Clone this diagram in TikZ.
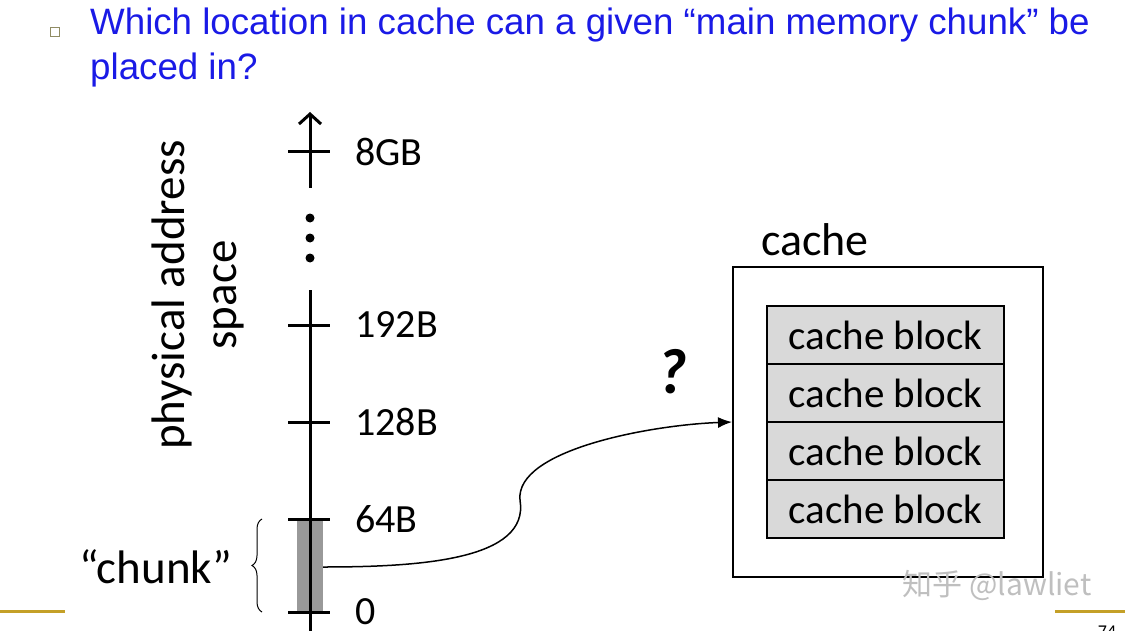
\documentclass[tikz,border=0pt]{standalone}
\usepackage{fontspec}
\setmainfont{Carlito}
\newfontfamily\titlefont{Liberation Sans}
\newfontfamily\cjkfont{Noto Sans CJK SC}
\usetikzlibrary{decorations.pathreplacing,arrows.meta}
\definecolor{titleblue}{RGB}{26,26,230}
\definecolor{gold}{RGB}{196,160,40}
\tikzset{
  tick/.style={line width=3pt},
  lbl/.style={anchor=west,font=\fontsize{40}{40}\selectfont,inner sep=0pt},
  blk/.style={draw,line width=1.2pt,fill=black!15,minimum width=237pt,minimum height=58pt,inner sep=0pt,font=\fontsize{41}{41}\selectfont},
}
\begin{document}
\begin{tikzpicture}[x=1pt,y=-1pt]
\useasboundingbox (0,0) rectangle (1134,631);
% title
\node[draw=gray!70!olive,line width=1pt,minimum size=9pt,inner sep=0pt] (bul) at (55,32) {};
\node[anchor=base west,inner sep=0pt,text=titleblue,font=\titlefont\fontsize{36.7}{36.7}\selectfont] (t1) at (90,35) {Which location in cache can a given “main memory chunk” be};
\node[anchor=base west,inner sep=0pt,text=titleblue,font=\titlefont\fontsize{36.7}{36.7}\selectfont] (t2) at (90,80) {placed in?};
% gray chunk
\fill[black!40] (297,519) rectangle (323,612);
% axis
\coordinate (top) at (310,112);
\coordinate (a1) at (310,188);
\coordinate (a2) at (310,290);
\coordinate (bot) at (310,631);
\draw[tick,-{Straight Barb[length=10pt,width=22pt,line width=3pt]}] (a1) -- (top);
\draw[tick] (a2) -- (bot);
\foreach \y in {218,238,258} \fill (310,\y) circle (4.5pt);
\foreach \y/\t in {152/8GB,325/192B,422/128B,519/64B,612/0}{
  \draw[tick] (288,\y) -- (330,\y);
  \node[lbl] at (355,\y) {\t};
}
\node[rotate=90,align=center,font=\fontsize{47}{52}\selectfont] (pas) at (198,295) {physical address\\space};
% brace
\draw[decorate,decoration={brace,amplitude=10pt},line width=1pt] (262,612) -- (262,519);
\node[anchor=east,font=\fontsize{47}{47}\selectfont,inner sep=0pt] (chunk) at (232,567) {“chunk”};
% cache
\node[draw,line width=2pt,minimum width=310pt,minimum height=310pt,inner sep=0pt] (cache) at (888,422) {};
\node[font=\fontsize{46}{46}\selectfont] (clabel) at (815,240) {cache};
\foreach \i/\y in {1/335,2/393,3/451,4/509}
  \node[blk] (b\i) at (885.5,\y) {cache block};
% arrow
\coordinate (src) at (323,567);
\draw[line width=1.5pt,-{Latex[length=14pt,width=11pt]}] (src) .. controls (420,567) and (530,560) .. (520,500) .. controls (515,450) and (650,425) .. (cache.west);
\node[font=\bfseries\itshape\fontsize{64}{64}\selectfont] (q) at (672,372) {?};
% footer
\draw[gold,line width=3pt] (0,611) -- (65,611);
\draw[gold,line width=3pt] (1055,611) -- (1125,611);
\node[font=\fontsize{18}{18}\selectfont\rmfamily] (pg) at (1107,632) {74};
\node[text=black!25,font=\cjkfont\fontsize{30}{30}\selectfont] (wm) at (997,585) {知乎 @lawliet};
\end{tikzpicture}
\end{document}
